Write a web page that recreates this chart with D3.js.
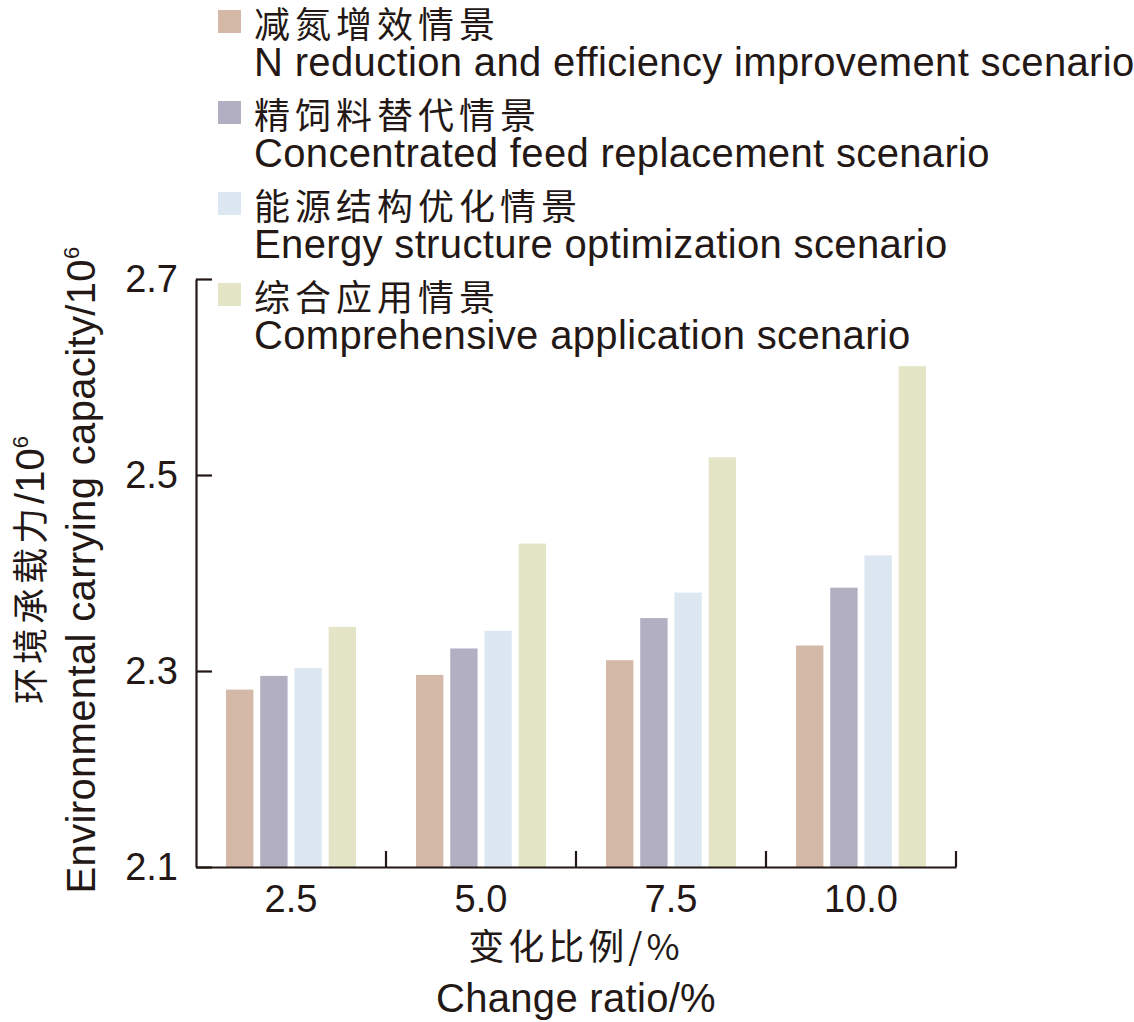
<!DOCTYPE html>
<html>
<head>
<meta charset="utf-8">
<script src="https://cdn.jsdelivr.net/npm/d3@7"></script>
<style>
  body { margin: 0; background: #fff; }
  text { font-family: "Liberation Sans", Arial, "Noto Sans CJK SC", sans-serif; fill: #231815; }
  .cn { font-family: "Noto Sans CJK SC", sans-serif; }
</style>
</head>
<body>
<div id="chart"></div>
<script>
// chart data
var ratios = ["2.5", "5.0", "7.5", "10.0"];
var scenarioKeys = ["nred", "feed", "energy", "comp"];
var scenarioCn = ["减氮增效情景", "精饲料替代情景", "能源结构优化情景", "综合应用情景"];
var scenarioEn = ["N reduction and efficiency improvement scenario",
  "Concentrated feed replacement scenario",
  "Energy structure optimization scenario",
  "Comprehensive application scenario"];
var nred = [2.281, 2.296, 2.311, 2.326];
var feed = [2.295, 2.323, 2.354, 2.385];
var energy = [2.303, 2.341, 2.380, 2.418];
var comp = [2.345, 2.430, 2.518, 2.611];
var yTicks = [2.1, 2.3, 2.5, 2.7];

var colors = ["#d4b9a8", "#b3afc2", "#dde7f1", "#e4e5c6"];
var ink = "#231815";

var svgWidth = 1134;
var svgHeight = 1022;

var margin = { top: 279, right: 178, bottom: 155, left: 196 };
var width = svgWidth - margin.left - margin.right;
var height = svgHeight - margin.top - margin.bottom;

var svg = d3.select("#chart")
  .append("svg")
  .attr("width", svgWidth)
  .attr("height", svgHeight);

var chartGroup = svg.append("g")
  .attr("transform", `translate(${margin.left}, ${margin.top})`);

// rows for grouped bars
var seriesValues = [nred, feed, energy, comp];
var rows = ratios.map(function(r, i) {
  var row = { ratio: r };
  scenarioKeys.forEach(function(k, j) { row[k] = seriesValues[j][i]; });
  return row;
});

// scales
var x0 = d3.scaleBand()
  .domain(ratios)
  .range([0, width])
  .padding(0);

var innerW = 130;
var x1 = d3.scaleBand()
  .domain(scenarioKeys)
  .range([(x0.bandwidth() - innerW) / 2, (x0.bandwidth() + innerW) / 2])
  .paddingInner(0.2)
  .paddingOuter(0);

var y = d3.scaleLinear()
  .domain([2.1, 2.7])
  .range([height, 0]);

var color = d3.scaleOrdinal().domain(scenarioKeys).range(colors);

// bars
chartGroup.selectAll(".grp")
  .data(rows)
  .enter()
  .append("g")
  .attr("class", "grp")
  .attr("transform", d => `translate(${x0(d.ratio)},0)`)
  .selectAll("rect")
  .data(d => scenarioKeys.map(k => ({ key: k, value: d[k] })))
  .enter()
  .append("rect")
  .attr("x", d => x1(d.key))
  .attr("y", d => y(d.value))
  .attr("width", x1.bandwidth())
  .attr("height", d => height - y(d.value))
  .attr("fill", d => color(d.key));

// y axis, ticks pointing inward
var leftAxis = d3.axisLeft(y)
  .tickValues(yTicks)
  .tickFormat(d3.format(".1f"))
  .tickSizeInner(-16)
  .tickSizeOuter(0)
  .tickPadding(18);

var yAxisG = chartGroup.append("g").call(leftAxis);
yAxisG.select(".domain").attr("stroke", ink).attr("stroke-width", 2.2);
yAxisG.selectAll(".tick line").attr("stroke", ink).attr("stroke-width", 2.2);
yAxisG.selectAll(".tick text")
  .attr("font-size", "38px")
  .attr("fill", ink)
  .style("font-family", "'Liberation Sans', Arial, sans-serif");

// x axis, labels at band centres
var bottomAxis = d3.axisBottom(x0)
  .tickSize(0)
  .tickPadding(18);

var xAxisG = chartGroup.append("g")
  .attr("transform", `translate(0, ${height})`)
  .call(bottomAxis);
xAxisG.select(".domain").attr("stroke", ink).attr("stroke-width", 2.2);
xAxisG.selectAll(".tick text")
  .attr("font-size", "38px")
  .attr("fill", ink)
  .style("font-family", "'Liberation Sans', Arial, sans-serif");

// separator ticks between groups
xAxisG.selectAll(".sep")
  .data(ratios)
  .enter()
  .append("line")
  .attr("class", "sep")
  .attr("x1", d => x0(d) + x0.bandwidth())
  .attr("x2", d => x0(d) + x0.bandwidth())
  .attr("y1", 0)
  .attr("y2", -16)
  .attr("stroke", ink)
  .attr("stroke-width", 2.2);

// x axis titles
var cx = width / 2;
chartGroup.append("text")
  .attr("class", "cn")
  .attr("x", cx)
  .attr("y", height + 93)
  .attr("text-anchor", "middle")
  .attr("font-size", "36px")
  .attr("letter-spacing", "4px")
  .text("变化比例/%");

chartGroup.append("text")
  .attr("x", cx)
  .attr("y", height + 145)
  .attr("text-anchor", "middle")
  .attr("font-size", "40px")
  .attr("letter-spacing", "0.3px")
  .text("Change ratio/%");

// y axis titles
var cy = height / 2 - 3;
var yCn = chartGroup.append("text")
  .attr("transform", "rotate(-90)")
  .attr("x", -cy)
  .attr("y", 44 - margin.left)
  .attr("text-anchor", "middle")
  .attr("font-size", "36px")
  .attr("letter-spacing", "4px");
yCn.append("tspan").attr("class", "cn").text("环境承载力");
yCn.append("tspan").attr("letter-spacing", "0px").style("font-size", "40px").text("/10");
yCn.append("tspan").attr("dy", -16).style("font-size", "22px").attr("letter-spacing", "0px").text("6");

var yEn = chartGroup.append("text")
  .attr("transform", "rotate(-90)")
  .attr("x", -cy)
  .attr("y", 95 - margin.left)
  .attr("text-anchor", "middle")
  .attr("font-size", "40px")
  .attr("letter-spacing", "0.35px");
yEn.append("tspan").text("Environmental carrying capacity/10");
yEn.append("tspan").attr("dy", -16).style("font-size", "22px").text("6");

// legend
var legend = svg.append("g").attr("transform", "translate(218, 10)");
var items = legend.selectAll(".item")
  .data(scenarioKeys)
  .enter()
  .append("g")
  .attr("class", "item")
  .attr("transform", (d, i) => `translate(0, ${i * 91})`);

items.append("rect")
  .attr("width", 23)
  .attr("height", 23)
  .attr("fill", d => color(d));

items.append("text")
  .attr("class", "cn")
  .attr("x", 36)
  .attr("y", 28)
  .attr("font-size", "36px")
  .attr("letter-spacing", "5px")
  .text((d, i) => scenarioCn[i]);

items.append("text")
  .attr("x", 36)
  .attr("y", 66)
  .attr("font-size", "40px")
  .attr("letter-spacing", "0.35px")
  .text((d, i) => scenarioEn[i]);
</script>
</body>
</html>
